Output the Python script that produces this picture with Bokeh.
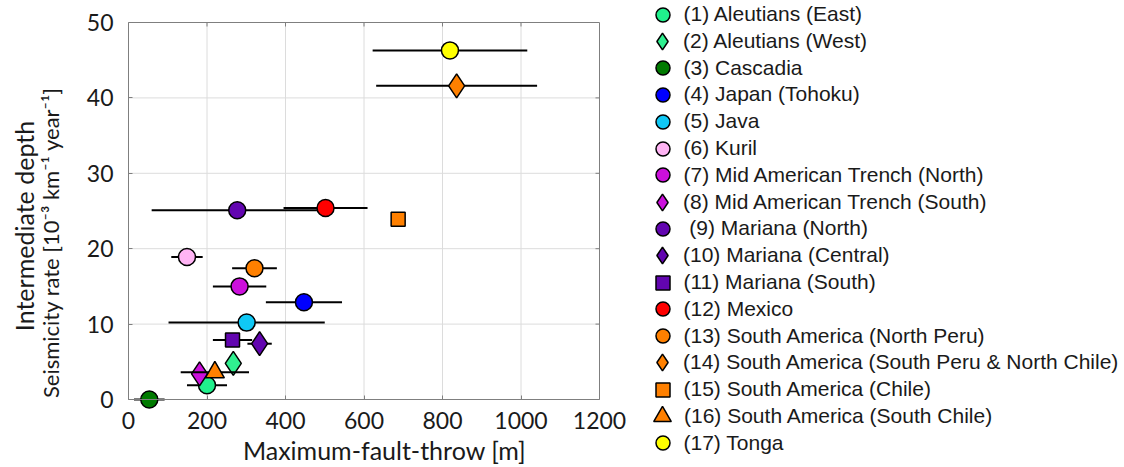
import math
from bokeh.plotting import figure
from bokeh.models import Range1d, FixedTicker, Legend, LegendItem, Label
from bokeh.embed import file_html
from bokeh.resources import INLINE

nan = float("nan")

names = [
    "(1) Aleutians (East)",
    "(2) Aleutians (West)",
    "(3) Cascadia",
    "(4) Japan (Tohoku)",
    "(5) Java",
    "(6) Kuril",
    "(7) Mid American Trench (North)",
    "(8) Mid American Trench (South)",
    " (9) Mariana (North)",
    "(10) Mariana (Central)",
    "(11) Mariana (South)",
    "(12) Mexico",
    "(13) South America (North Peru)",
    "(14) South America (South Peru & North Chile)",
    "(15) South America (Chile)",
    "(16) South America (South Chile)",
    "(17) Tonga",
]
throw = [200, 267, 53, 447, 301, 149, 283, 181, 277, 334, 265, 502, 321, 836, 687, 220, 819]
rate = [1.9, 4.8, 0.0, 12.9, 10.2, 18.9, 15.0, 3.4, 25.1, 7.4, 7.9, 25.4, 17.4, 41.6, 23.9, 3.6, 46.3]
throw_err = [51, nan, 39, 97, 199, 40, 68, nan, 218, 31, 50, 107, 57, 205, nan, 87, 197]
markers = ["circle", "diamond", "circle", "circle", "circle", "circle", "circle", "diamond",
           "circle", "diamond", "square", "circle", "circle", "diamond", "square", "triangle", "circle"]
colors = ["#20f08c", "#30f090", "#007a00", "#0000ff", "#10c8f5", "#ffb4f4", "#cc10dc", "#cc10dc",
          "#6205b0", "#6205b0", "#6205b0", "#ff0000", "#ff8000", "#ff8000", "#ff8000", "#ff8000", "#ffff00"]
x_lim = (0, 1200)
y_lim = (0, 50)
x_ticks = [0, 200, 400, 600, 800, 1000, 1200]
y_ticks = [0, 10, 20, 30, 40, 50]
x_title = "Maximum-fault-throw [m]"
y_title_1 = "Intermediate depth"
y_title_2 = "Seismicity rate [10\u207b\u00b3 km\u207b\u00b9 year\u207b\u00b9]"

main_size = {"circle": 17, "diamond": 24, "square": 14, "triangle": 19}
leg_box = {"circle": 35, "diamond": 42, "square": 35, "triangle": 44}  # marker = 0.4 * box

AX = "#7f7f7f"
GRID = "#dcdcdc"
TXT = "#1a1a1a"
TF = "Lato"

# canvas geometry (px): plot box from x 128..599, y 22..399
W, H = 1120, 465
BL, BR, BT, BB = 128, 599, 22, 399
px_x = (BR - BL) / (x_lim[1] - x_lim[0])
px_y = (BB - BT) / (y_lim[1] - y_lim[0])
xr = Range1d(x_lim[0] - BL / px_x, x_lim[0] + (W - BL) / px_x)
yr = Range1d(y_lim[0] - (H - BB) / px_y, y_lim[0] + BB / px_y)

p = figure(width=W, height=H, x_range=xr, y_range=yr, toolbar_location=None,
           output_backend="svg", min_border=0, min_border_left=0, min_border_right=0,
           min_border_top=0, min_border_bottom=0)
p.outline_line_color = None
p.background_fill_color = "white"
p.border_fill_color = "white"
p.grid.visible = False

# grid lines
p.segment(x0=x_ticks[1:-1], x1=x_ticks[1:-1], y0=y_lim[0], y1=y_lim[1],
          line_color=GRID, line_width=1)
p.segment(x0=x_lim[0], x1=x_lim[1], y0=y_ticks[1:-1], y1=y_ticks[1:-1],
          line_color=GRID, line_width=1)

rends = []
for i in range(len(names)):
    if not math.isnan(throw_err[i]):
        p.segment(x0=[throw[i] - throw_err[i]], x1=[throw[i] + throw_err[i]],
                  y0=[rate[i]], y1=[rate[i]], line_color="black", line_width=2)
    r = p.scatter(x=[throw[i]], y=[rate[i]], marker=markers[i], size=main_size[markers[i]],
                  fill_color=colors[i], line_color="black", line_width=1.5)
    rends.append(r)

# top and right edges of the box with inward ticks
tick_len = 4
p.segment(x0=x_lim[1], x1=x_lim[1], y0=y_lim[0], y1=y_lim[1], line_color=AX, line_width=1)
p.segment(x0=x_lim[0], x1=x_lim[1], y0=y_lim[1], y1=y_lim[1], line_color=AX, line_width=1)
p.segment(x0=x_ticks[1:-1], x1=x_ticks[1:-1], y0=y_lim[1], y1=y_lim[1] - tick_len / px_y,
          line_color=AX, line_width=1)
p.segment(x0=x_lim[1], x1=x_lim[1] - tick_len / px_x, y0=y_ticks[1:-1], y1=y_ticks[1:-1],
          line_color=AX, line_width=1)

xa = p.xaxis[0]
ya = p.yaxis[0]
xa.fixed_location = y_lim[0]
xa.bounds = x_lim
ya.fixed_location = x_lim[0]
ya.bounds = y_lim
xa.ticker = FixedTicker(ticks=x_ticks)
ya.ticker = FixedTicker(ticks=y_ticks)
for ax in [xa, ya]:
    ax.axis_line_color = AX
    ax.major_tick_line_color = AX
    ax.major_tick_in = tick_len
    ax.major_tick_out = 0
    ax.minor_tick_line_color = None
    ax.major_label_text_font = TF
    ax.major_label_text_font_size = "23px"
    ax.major_label_text_color = TXT
xa.major_label_standoff = 12
ya.major_label_standoff = 15

# axis titles (screen units from the canvas' bottom-left corner)
p.add_layout(Label(x=384, y=H - 449, x_units="screen", y_units="screen",
                   text=x_title, text_font=TF, text_font_size="25px", text_color=TXT,
                   text_align="center", text_baseline="alphabetic"))
p.add_layout(Label(x=23, y=H - 225.5, x_units="screen", y_units="screen",
                   angle=math.pi / 2, text=y_title_1, text_font=TF, text_font_size="25px",
                   text_color=TXT, text_align="center", text_baseline="alphabetic"))
p.add_layout(Label(x=50, y=H - 242, x_units="screen", y_units="screen",
                   angle=math.pi / 2, text=y_title_2, text_font="Lato, 'Noto Sans'",
                   text_font_size="22px", text_color=TXT, text_align="center",
                   text_baseline="alphabetic"))

# legend: one single-entry legend per row
for i in range(len(names)):
    gb = leg_box[markers[i]]
    cy = 14 + 26.8 * i
    leg = Legend(items=[LegendItem(label=names[i], renderers=[rends[i]])],
                 location=(662 - gb / 2, H - (cy + gb / 2)),
                 glyph_width=gb, glyph_height=gb, padding=0, margin=0, spacing=0,
                 label_standoff=max(0, round(21 - gb / 2)), label_height=20,
                 label_text_font="Liberation Sans", label_text_font_size="21px",
                 label_text_color=TXT, label_text_baseline="middle",
                 border_line_color=None, background_fill_alpha=0)
    p.add_layout(leg, "center")

open("out.html", "w").write(file_html(p, INLINE))
